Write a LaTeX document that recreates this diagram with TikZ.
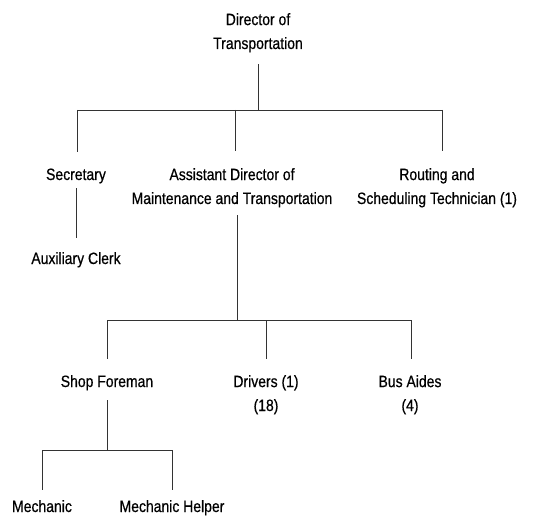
\documentclass[tikz,border=0pt]{standalone}
\usepackage{fontspec}
\setmainfont{Liberation Sans}[FakeStretch=0.85, FakeBold=0.6]
\usetikzlibrary{positioning}

\begin{document}
\begin{tikzpicture}[x=1bp, y=-1bp, line width=0.8bp, font=\fontsize{16.5}{24}\selectfont]
\tikzstyle{lbl}=[inner sep=0pt, outer sep=0pt, align=center, anchor=base]
\tikzstyle{ln}=[draw=black!80]
\useasboundingbox (0,0) rectangle (533,516);

% base = baseline of the last line
\node[lbl] (dir) at (258,49) {Director of\\Transportation};

\node[lbl] (sec) at (76,180) {Secretary};
\node[lbl] (asst) at (232,204) {Assistant Director of\\Maintenance and Transportation};
\node[lbl] (rout) at (437,204) {Routing and\\Scheduling Technician (1)};
\node[lbl] (aux) at (76,264) {Auxiliary Clerk};

\node[lbl] (shop) at (107,387) {Shop Foreman};
\node[lbl] (drv) at (266,411) {Drivers (1)\\(18)};
\node[lbl] (bus) at (410,411) {Bus Aides\\(4)};

\node[lbl] (mech) at (42,512) {Mechanic};
\node[lbl] (help) at (172,512) {Mechanic Helper};

% bars
\coordinate (b1l) at (77,110);
\coordinate (b1m) at (235,110);
\coordinate (b1r) at (442,110);
\coordinate (b2l) at (107,320);
\coordinate (b2m) at (266,320);
\coordinate (b2r) at (411,320);
\coordinate (b3l) at (42,450);
\coordinate (b3r) at (172,450);

\draw[ln, shorten <=11.6bp] (dir.south) -- (dir.south |- b1l);
\draw[ln] (b1l) -- (b1r);
\draw[ln, shorten >=17bp] (b1l) -- (b1l |- sec.north);
\draw[ln, shorten >=17bp] (b1m) -- (b1m |- asst.north);
\draw[ln, shorten >=17bp] (b1r) -- (b1r |- rout.north);

\draw[ln, shorten <=4.6bp, shorten >=14bp] (sec.south) -- (aux.north);

\draw[ln, shorten <=7.6bp] (asst.south) ++(5bp,0) coordinate (asst0) -- (asst0 |- b2l);
\draw[ln] (b2l) -- (b2r);
\draw[ln, shorten >=16bp] (b2l) -- (b2l |- shop.north);
\draw[ln, shorten >=16bp] (b2m) -- (b2m |- drv.north);
\draw[ln, shorten >=16bp] (b2r) -- (b2r |- bus.north);

\draw[ln, shorten <=9.6bp] (shop.south) -- (shop.south |- b3l);
\draw[ln] (b3l) -- (b3r);
\draw[ln, shorten >=10.5bp] (b3l) -- (b3l |- mech.north);
\draw[ln, shorten >=10.5bp] (b3r) -- (b3r |- help.north);
\end{tikzpicture}
\end{document}
